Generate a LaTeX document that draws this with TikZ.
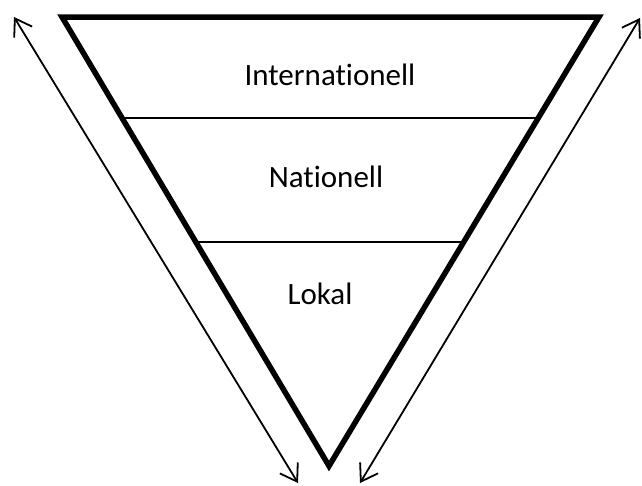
\documentclass[tikz,border=0pt]{standalone}
\usepackage{fontspec}
\setmainfont{Carlito}[Ligatures={NoCommon}]
\usetikzlibrary{arrows.meta,calc}
\begin{document}
\begin{tikzpicture}[x=1pt,y=-1pt,
  tri/.style={line width=5.5pt,line join=miter},
  level/.style={line width=2pt},
  lbl/.style={anchor=base,inner sep=0pt,font=\fontsize{31}{36}\selectfont},
  dbl/.style={line width=1.8pt,{Straight Barb[length=16pt,width=21pt,line width=1.8pt]}-{Straight Barb[length=16pt,width=21pt,line width=1.8pt]}}]
\useasboundingbox (0,0) rectangle (642,485);
\coordinate (tl) at (62,17);
\coordinate (tr) at (599,17);
\coordinate (ap) at (329,466);
\draw[tri] (tl) -- (tr) -- (ap) -- cycle;
\coordinate (l1) at ($(tl)!0.225!(ap)$);
\coordinate (r1) at ($(tr)!0.225!(ap)$);
\coordinate (l2) at ($(tl)!0.501!(ap)$);
\coordinate (r2) at ($(tr)!0.501!(ap)$);
\draw[level] (l1) -- (r1);
\draw[level] (l2) -- (r2);
\node[lbl] (intl) at (330,85) {Internationell};
\node[lbl] (nat) at (326,187) {Nationell};
\node[lbl] (lok) at (320,304) {Lokal};
\coordinate (a1) at (14,17);
\coordinate (a2) at (298,483);
\coordinate (b1) at (640,18);
\coordinate (b2) at (360,483);
\draw[dbl] (a1) -- (a2);
\draw[dbl] (b1) -- (b2);
\end{tikzpicture}
\end{document}
